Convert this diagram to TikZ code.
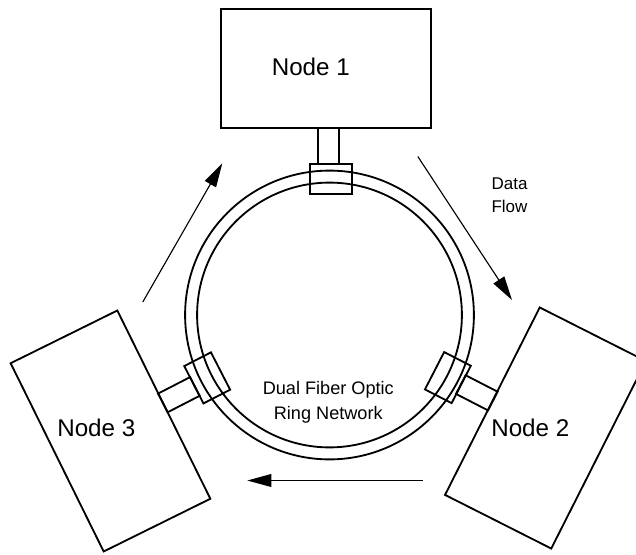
\documentclass[tikz,border=0pt]{standalone}
\usepackage{fontspec}
\setmainfont{Liberation Sans}
\usetikzlibrary{arrows.meta,calc}

\tikzset{
    nodebox/.style={draw, line width=1.3pt, minimum width=5.25cm, minimum height=2.975cm, inner sep=0pt},
    coupler/.style={draw, line width=1.3pt, minimum width=1.05cm, minimum height=0.75cm, inner sep=0pt},
    stubbox/.style={draw, line width=1.3pt, minimum width=0.525cm, minimum height=0.9cm, inner sep=0pt},
    flow/.style={line width=0.8pt, -{Triangle[length=6mm,width=3.2mm]}},
    bigtext/.style={font=\fontsize{17.2}{20}\selectfont},
    smalltext/.style={font=\fontsize{12.9}{17.8}\selectfont, align=center},
}

\begin{document}
\begin{tikzpicture}
    \useasboundingbox (-8.2375,-5.975) rectangle (7.6625,7.875);

    % dual ring
    \draw[line width=1.3pt] (0,0) circle (3.61);
    \draw[line width=1.3pt] (0,0) circle (3.31);

    % stations
    \node[nodebox] (n1) at (-0.0875,6.1625) {};
    \node[nodebox, rotate=-116.8] (n2) at (5.4,-2.825) {};
    \node[nodebox, rotate=116.3] (n3) at (-5.475,-2.9) {};

    \node[coupler] (c1) at (0.03,3.4) {};
    \node[coupler, rotate=-117.2] (c2) at (2.96,-1.565) {};
    \node[coupler, rotate=117.2] (c3) at (-3.0575,-1.5725) {};

    \node[stubbox] (s1) at ($(c1.north)!0.5!(n1.south)$) {};
    \node[stubbox, rotate=-117.2] (s2) at ($(c2.north)!0.5!(n2.south)$) {};
    \node[stubbox, rotate=117.2] (s3) at ($(c3.north)!0.5!(n3.south)$) {};

    \node[bigtext] (t1) at (-0.4675,6.205) {Node 1};
    \node[bigtext] (t2) at (5.02,-2.83) {Node 2};
    \node[bigtext] (t3) at (-5.83,-2.815) {Node 3};

    \node[smalltext] (ringtxt) at (-0.03,-2.19) {Dual Fiber Optic\\Ring Network};
    \node[smalltext, font=\fontsize{12.1}{16.5}\selectfont] (flowtxt) at (4.5,2.99) {Data\\Flow};

    % data flow arrows
    \coordinate (a1s) at (2.2075,3.9625);
    \coordinate (a1e) at (4.5625,0.375);
    \coordinate (a2s) at (2.33,-4.1375);
    \coordinate (a2e) at (-2.055,-4.1375);
    \coordinate (a3s) at (-4.6675,0.325);
    \coordinate (a3e) at (-2.68,3.7925);
    \draw[flow] (a1s) -- (a1e);
    \draw[flow] (a2s) -- (a2e);
    \draw[flow] (a3s) -- (a3e);
\end{tikzpicture}
\end{document}
